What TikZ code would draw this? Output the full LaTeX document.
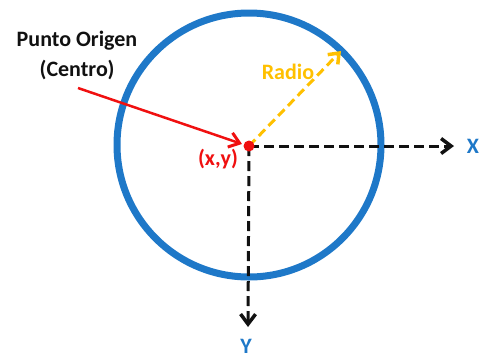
\documentclass[tikz,border=0pt]{standalone}
\usepackage{fontspec}
\setmainfont{Carlito}
\usetikzlibrary{positioning,arrows.meta}
\definecolor{cBlue}{HTML}{1E78C8}
\definecolor{cRed}{HTML}{F01010}
\definecolor{cOrange}{HTML}{FFC000}
\definecolor{cBlack}{HTML}{111111}
\tikzset{
	lbl/.style={font=\fontsize{22}{30}\selectfont\bfseries, inner sep=1pt, align=center},
	axis/.style={-{Straight Barb[length=10pt,width=15pt,line width=3.5pt]}, line width=3pt, color=cBlack, dash pattern=on 10pt off 5pt},
	rad/.style={-{Straight Barb[length=9pt,width=14pt,line width=3.5pt]}, line width=3pt, color=cOrange, dash pattern=on 9pt off 5pt},
	ptr/.style={-{Straight Barb[length=10pt,width=15pt,line width=3pt]}, line width=2.5pt, color=cRed},
}
\begin{document}
\begin{tikzpicture}[x=1pt,y=-1pt]
				\useasboundingbox (0,0) rectangle (482,360);
				\draw[cBlue, line width=7pt] (249,145) circle (132);
				\coordinate (c) at (249,146);
				\coordinate (xend) at (454,146);
				\coordinate (yend) at (248,327);
				\coordinate (rend) at (341,51);
				\coordinate (pstart) at (78,88);
				\node[lbl, text=cBlue] (xl) at (473,146) {X};
				\node[lbl, text=cBlue] (yl) at (246,346) {Y};
				\node[lbl, text=cOrange] (rl) at (288,72) {Radio};
				\node[lbl, text=cRed] (pl) at (218,159) {(x,y)};
				\node[lbl, text=cBlack] (tl) at (77,55) {Punto Origen\\(Centro)};
				\draw[axis] (c) -- (xend);
				\draw[axis] (c) -- (yend);
				\draw[rad] (c) -- (rend);
				\node[circle, fill=cRed, inner sep=0pt, minimum size=11pt] (o) at (c) {};
				\draw[ptr] (pstart) -- ([shift={(-3pt,-2pt)}]o.north west);
		\end{tikzpicture}
\end{document}
